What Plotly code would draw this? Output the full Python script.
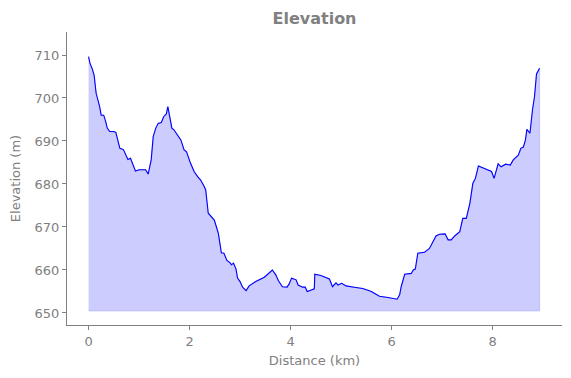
import plotly.graph_objects as go

distance_km = [0.00, 0.03, 0.07, 0.11, 0.15, 0.18, 0.22, 0.25, 0.30, 0.34, 0.37, 0.42, 0.50, 0.54, 0.58,
               0.62, 0.69, 0.73, 0.78, 0.83, 0.87, 0.93, 1.00, 1.13, 1.18, 1.22, 1.24, 1.28, 1.33, 1.38,
               1.44, 1.49, 1.54, 1.57, 1.60, 1.65, 1.69, 1.76, 1.83, 1.89, 1.94, 2.02, 2.09, 2.16, 2.22,
               2.29, 2.32, 2.37, 2.45, 2.49, 2.54, 2.57, 2.63, 2.68, 2.74, 2.80, 2.83, 2.87, 2.92, 2.95,
               3.00, 3.05, 3.12, 3.18, 3.31, 3.48, 3.64, 3.71, 3.76, 3.84, 3.93, 3.97, 4.02, 4.11, 4.15,
               4.24, 4.29, 4.33, 4.40, 4.47, 4.48, 4.60, 4.77, 4.83, 4.90, 4.94, 5.01, 5.10, 5.26, 5.43,
               5.60, 5.76, 5.93, 6.11, 6.16, 6.19, 6.26, 6.39, 6.43, 6.47, 6.52, 6.65, 6.75, 6.82, 6.88,
               6.95, 7.06, 7.12, 7.18, 7.25, 7.35, 7.41, 7.48, 7.55, 7.61, 7.66, 7.72, 7.84, 7.98, 8.03,
               8.11, 8.17, 8.26, 8.35, 8.41, 8.51, 8.56, 8.61, 8.65, 8.68, 8.74, 8.79, 8.83, 8.87, 8.90,
               8.93]
elevation_m = [709.6, 708.0, 706.9, 705.3, 701.1, 700.0, 698.0, 696.0, 696.0, 694.5, 693.0, 692.2, 692.2, 692.0, 690.0,
               688.3, 688.0, 687.1, 685.7, 686.0, 684.8, 683.0, 683.3, 683.3, 682.3, 684.8, 685.6, 691.0, 693.0, 694.1,
               694.3, 695.7, 696.3, 698.0, 695.7, 693.0, 692.6, 691.4, 690.2, 688.0, 687.5, 684.8, 682.9, 681.7, 680.9,
               679.4, 678.6, 673.2, 672.2, 671.6, 669.7, 668.5, 664.0, 663.9, 662.2, 661.7, 661.2, 661.6, 660.2, 658.1,
               657.3, 656.0, 655.2, 656.3, 657.3, 658.3, 660.0, 658.8, 657.5, 656.1, 656.0, 656.7, 658.1, 657.7, 656.5,
               656.0, 656.0, 655.0, 655.3, 655.6, 659.0, 658.7, 657.9, 656.1, 657.0, 656.5, 656.9, 656.3, 656.0, 655.7,
               655.0, 653.9, 653.6, 653.2, 654.2, 656.1, 659.0, 659.2, 660.0, 660.2, 663.9, 664.1, 665.0, 666.6, 667.9,
               668.3, 668.4, 667.0, 667.0, 667.9, 668.9, 672.0, 672.0, 675.5, 680.2, 681.3, 684.2, 683.6, 682.9, 681.3,
               684.7, 684.0, 684.6, 684.4, 685.6, 686.7, 688.3, 688.6, 690.2, 692.7, 691.8, 697.2, 700.3, 705.6, 706.1,
               706.9]
fill_base = 650.5

x_ticks = [0, 2, 4, 6, 8]
y_ticks = [650, 660, 670, 680, 690, 700, 710]

GRAY = "#808080"
FONT = "DejaVu Sans"

fig = go.Figure()
fig.add_trace(go.Scatter(
    x=distance_km + distance_km[::-1],
    y=elevation_m + [fill_base] * len(distance_km),
    mode="lines", fill="toself",
    fillcolor="rgba(0,0,255,0.2)",
    line=dict(color="rgba(0,0,255,0.15)", width=1.2),
    hoverinfo="skip", showlegend=False))
fig.add_trace(go.Scatter(
    x=distance_km, y=elevation_m, mode="lines",
    line=dict(color="blue", width=1.1), showlegend=False))

axis_common = dict(
    showgrid=False, zeroline=False, showline=True, linecolor=GRAY, linewidth=1,
    mirror=False, ticks="outside", ticklen=4, tickwidth=1, tickcolor=GRAY,
    tickfont=dict(family=FONT, size=13, color=GRAY),
)
fig.update_layout(
    width=571, height=378,
    margin=dict(l=59, r=17, t=24, b=61, autoexpand=False),
    paper_bgcolor="white", plot_bgcolor="white",
    title=dict(text="<b>Elevation</b>", x=0.5368, xanchor="center", y=0.9735, yanchor="middle",
               font=dict(family=FONT, size=16, color=GRAY)),
    xaxis=dict(axis_common, range=[-0.427, 9.375], tickvals=x_ticks,
               title=dict(text="Distance (km)", font=dict(family=FONT, size=13, color=GRAY), standoff=8)),
    yaxis=dict(axis_common, range=[647.2, 715.35], tickvals=y_ticks,
               title=dict(text="Elevation (m)", font=dict(family=FONT, size=13, color=GRAY), standoff=13)),
)
fig.write_html("out.html")
